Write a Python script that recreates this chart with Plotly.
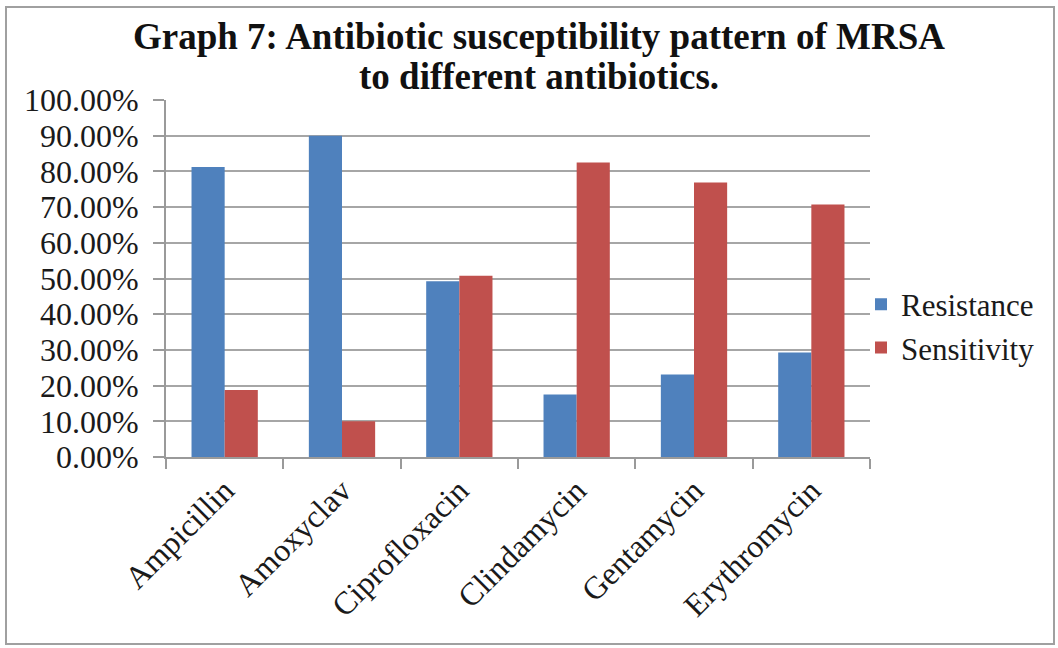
import plotly.graph_objects as go

antibiotics = ["Ampicillin", "Amoxyclav", "Ciprofloxacin", "Clindamycin", "Gentamycin", "Erythromycin"]
resistance = [0.8125, 0.90, 0.492, 0.175, 0.231, 0.293]
sensitivity = [0.1875, 0.10, 0.508, 0.825, 0.769, 0.707]
y_ticks = [i / 10 for i in range(11)]

W, H = 1058, 648
L, R, T, B = 166, 188, 100, 191
pw, ph = W - L - R, H - T - B


def px_x(x):
    return (x - L) / pw


def px_y(y):
    return (H - B - y) / ph


serif = "Liberation Serif, Times New Roman, serif"

fig = go.Figure()
fig.add_trace(go.Bar(name="Resistance", x=antibiotics, y=resistance, marker_color="#4F81BD",
                     marker_line_width=0))
fig.add_trace(go.Bar(name="Sensitivity", x=antibiotics, y=sensitivity, marker_color="#C0504D",
                     marker_line_width=0))

fig.update_layout(
    width=W, height=H,
    margin=dict(l=L, r=R, t=T, b=B, autoexpand=False),
    paper_bgcolor="white", plot_bgcolor="white",
    barmode="group", bargap=0.435, bargroupgap=0,
    font=dict(family=serif, color="#1a1a1a"),
    showlegend=True,
    legend=dict(x=px_x(861), y=px_y(326), xanchor="left", yanchor="middle",
                font=dict(size=31, family=serif, color="#1a1a1a"),
                itemsizing="constant", tracegroupgap=12, bgcolor="rgba(0,0,0,0)"),
    xaxis=dict(showline=True, linecolor="#9a9a9a", linewidth=2,
               ticks="outside", ticklen=10, tickcolor="#9a9a9a", tickwidth=2,
               tickson="boundaries", tickangle=-45,
               tickfont=dict(size=32, family=serif, color="#1a1a1a"),
               showgrid=False),
    yaxis=dict(range=[0, 1.0], tickvals=y_ticks, tickformat=".2%",
               showline=True, linecolor="#9a9a9a", linewidth=2,
               ticks="outside", ticklen=11, tickcolor="#9a9a9a", tickwidth=2,
               ticklabelstandoff=8,
               showgrid=True, gridcolor="#a6a6a6", gridwidth=2,
               tickfont=dict(size=32, family=serif, color="#1a1a1a"),
               zeroline=False),
    shapes=[dict(type="rect", xref="paper", yref="paper",
                 x0=px_x(6), x1=px_x(1054), y0=px_y(644), y1=px_y(7),
                 line=dict(color="#a0a0a0", width=2), fillcolor="rgba(0,0,0,0)", layer="below")],
    annotations=[
        dict(text="<b>Graph 7: Antibiotic susceptibility pattern of MRSA</b>", xref="paper", yref="paper",
             x=px_x(539), y=px_y(37), xanchor="center", yanchor="middle", showarrow=False,
             font=dict(size=37, family=serif, color="#111111")),
        dict(text="<b>to different antibiotics.</b>", xref="paper", yref="paper",
             x=px_x(539), y=px_y(76), xanchor="center", yanchor="middle", showarrow=False,
             font=dict(size=37, family=serif, color="#111111")),
    ],
)

fig.write_html("out.html")
